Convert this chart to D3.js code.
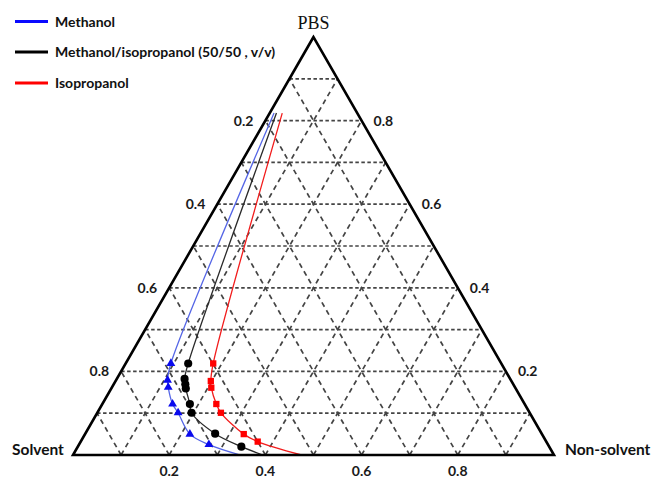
<!DOCTYPE html>
<html>
<head>
<meta charset="utf-8">
<script src="https://cdn.jsdelivr.net/npm/d3@7"></script>
<style>
  body { margin: 0; background: #fff; }
  svg { display: block; }
</style>
</head>
<body>
<svg id="chart" width="654" height="478"></svg>
<script>
// Ternary phase diagram PBS / solvent / non-solvent.
// Compositions are given as PBS and non-solvent mass fractions; solvent = 1 - PBS - non-solvent.

const vertexLabels = ["PBS", "Solvent", "Non-solvent"];
const tickValues = [0.2, 0.4, 0.6, 0.8];
const gridFractions = [0.1, 0.2, 0.3, 0.4, 0.5, 0.6, 0.7, 0.8, 0.9];

const seriesNames = ["Methanol", "Methanol/isopropanol (50/50 , v/v)", "Isopropanol"];

// Cloud-point markers (PBS fraction, non-solvent fraction)
const methanolPBS = [0.219, 0.179, 0.162, 0.122, 0.101, 0.050, 0.025];
const methanolNS  = [0.094, 0.107, 0.117, 0.146, 0.168, 0.218, 0.270];
const mixPBS = [0.219, 0.182, 0.169, 0.159, 0.122, 0.101, 0.051, 0.020];
const mixNS  = [0.130, 0.141, 0.149, 0.155, 0.182, 0.196, 0.270, 0.340];
const isoPBS = [0.219, 0.177, 0.161, 0.122, 0.101, 0.050, 0.032];
const isoNS  = [0.182, 0.198, 0.207, 0.237, 0.257, 0.330, 0.368];

// Binodal end points: upper end (PBS, non-solvent) and the base crossing (non-solvent)
const methanolTop = [0.818, 0.009];
const mixTop = [0.818, 0.014];
const isoTop = [0.818, 0.026];
const methanolBase = 0.348;
const mixBase = 0.395;
const isoBase = 0.475;

const svg = d3.select("#chart");

// Base axis (non-solvent) and height axis (PBS)
const xBase = d3.scaleLinear().domain([0, 1]).range([73, 554]);
const yP = d3.scaleLinear().domain([0, 1]).range([455, 37]);
const px = (p, n) => xBase(n + p / 2);
const py = (p) => yP(p);

// Grid
const grid = svg.append("g").attr("fill", "none").attr("stroke", "#444").attr("stroke-width", 1.7);
gridFractions.forEach(f => {
  // constant PBS (horizontal)
  grid.append("line")
    .attr("x1", px(f, 0)).attr("y1", py(f))
    .attr("x2", px(f, 1 - f)).attr("y2", py(f))
    .attr("stroke-dasharray", "3.5,2.5");
  // constant non-solvent
  grid.append("line")
    .attr("x1", px(0, f)).attr("y1", py(0))
    .attr("x2", px(1 - f, f)).attr("y2", py(1 - f))
    .attr("stroke-dasharray", "5,4");
  // constant solvent
  grid.append("line")
    .attr("x1", px(0, 1 - f)).attr("y1", py(0))
    .attr("x2", px(1 - f, 0)).attr("y2", py(1 - f))
    .attr("stroke-dasharray", "5,4");
});

// Binodal curves
const line = d3.line()
  .x(d => px(d[0], d[1]))
  .y(d => py(d[0]))
  .curve(d3.curveCatmullRom.alpha(0.5));

const series = [
  { pbs: methanolPBS, ns: methanolNS, top: methanolTop, base: methanolBase,
    lineColor: "#5566e6", markColor: "#0a0aee", symbol: d3.symbolTriangle, size: 34 },
  { pbs: mixPBS, ns: mixNS, top: mixTop, base: mixBase,
    lineColor: "#2a2a2a", markColor: "#000000", symbol: d3.symbolCircle, size: 52 },
  { pbs: isoPBS, ns: isoNS, top: isoTop, base: isoBase,
    lineColor: "#f21c1c", markColor: "#ff0000", symbol: d3.symbolSquare, size: 40 }
];

series.forEach(s => {
  const pts = s.pbs.map((p, i) => [p, s.ns[i]]);
  const curve = [s.top, ...pts, [0, s.base]];
  svg.append("path")
    .attr("d", line(curve))
    .attr("fill", "none")
    .attr("stroke", s.lineColor)
    .attr("stroke-width", 1.3);
  svg.append("g").selectAll("path")
    .data(pts)
    .join("path")
    .attr("transform", d => `translate(${px(d[0], d[1])},${py(d[0])})`)
    .attr("d", d3.symbol().type(s.symbol).size(s.size))
    .attr("fill", s.markColor);
});

// Triangle outline
svg.append("path")
  .attr("d", d3.line()([[px(1, 0), py(1)], [px(0, 0), py(0)], [px(0, 1), py(0)]]) + "Z")
  .attr("fill", "none")
  .attr("stroke", "#000")
  .attr("stroke-width", 2.6)
  .attr("stroke-linejoin", "miter");

// Tick labels
const tickFont = "Lato, 'Liberation Sans', sans-serif";
const ticks = svg.append("g")
  .attr("font-family", tickFont)
  .attr("font-weight", "bold")
  .attr("font-size", 14)
  .attr("fill", "#1a1a1a");

// left edge: solvent fraction
ticks.selectAll(".tl").data(tickValues).join("text")
  .attr("x", d => px(1 - d, 0) - 12)
  .attr("y", d => py(1 - d) + 5)
  .attr("text-anchor", "end")
  .text(d => d.toFixed(1));

// right edge: PBS fraction
ticks.selectAll(".tr").data(tickValues).join("text")
  .attr("x", d => px(d, 1 - d) + 12)
  .attr("y", d => py(d) + 5)
  .attr("text-anchor", "start")
  .text(d => d.toFixed(1));

// base: non-solvent fraction
ticks.selectAll(".tb").data(tickValues).join("text")
  .attr("x", d => px(0, d))
  .attr("y", 476)
  .attr("text-anchor", "middle")
  .text(d => d.toFixed(1));

// Vertex labels
svg.append("text")
  .attr("x", px(1, 0)).attr("y", 29)
  .attr("text-anchor", "middle")
  .attr("font-family", "'Liberation Serif', 'DejaVu Serif', serif")
  .attr("font-size", 18)
  .attr("fill", "#111")
  .text(vertexLabels[0]);

const vFont = svg.append("g")
  .attr("font-family", tickFont)
  .attr("font-weight", "bold")
  .attr("font-size", 15.5)
  .attr("fill", "#111");
vFont.append("text").attr("x", 12).attr("y", 455).text(vertexLabels[1]);
vFont.append("text").attr("x", 565).attr("y", 455).text(vertexLabels[2]);

// Legend
const legendColors = ["#0a0aff", "#000000", "#ff0000"];
const legendY = [21.5, 52, 83];
const legend = svg.append("g")
  .attr("font-family", tickFont)
  .attr("font-weight", "bold")
  .attr("font-size", 14)
  .attr("fill", "#111");
seriesNames.forEach((name, i) => {
  legend.append("line")
    .attr("x1", 15).attr("x2", 48)
    .attr("y1", legendY[i]).attr("y2", legendY[i])
    .attr("stroke", legendColors[i]).attr("stroke-width", 3);
  legend.append("text")
    .attr("x", 55).attr("y", legendY[i] + 5)
    .text(name);
});
</script>
</body>
</html>
